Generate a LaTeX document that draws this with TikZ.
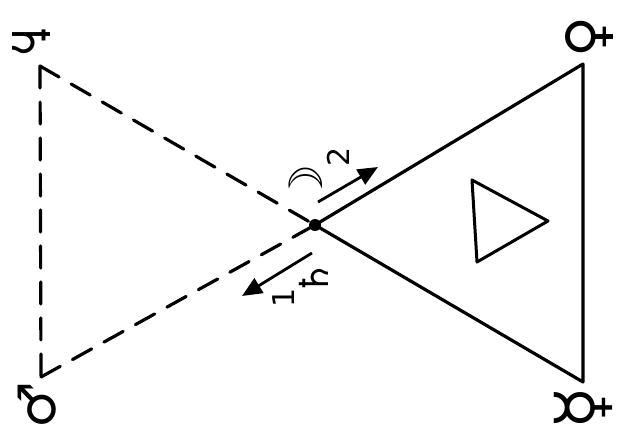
\documentclass[tikz,border=0pt]{standalone}
\usepackage{fontspec}
\newfontfamily\symfont{DejaVu Sans}
\usetikzlibrary{arrows.meta}
\tikzset{
  edge/.style={line width=3.2pt, line cap=round, line join=round},
  dashedge/.style={edge, dash pattern=on 22pt off 14pt},
  sym/.style={font=\symfont\fontsize{60}{62}\selectfont, inner sep=0pt},
  lab/.style={font=\symfont\fontsize{30}{32}\selectfont, inner sep=0pt},
  arr/.style={line width=2.8pt, -{Triangle[length=20pt,width=17pt]}}
}
\begin{document}
\begin{tikzpicture}[x=1pt,y=-1pt]
\useasboundingbox (0,0) rectangle (621,434);
% vertices
\coordinate (TL) at (40,66);
\coordinate (BL) at (41,377);
\coordinate (C) at (315,225);
\coordinate (TR) at (583,64);
\coordinate (BR) at (583,382);
% dashed left triangle
\draw[dashedge] (TL) -- (C);
\draw[dashedge] (BL) -- (C);
\draw[dashedge] (TL) -- (BL);
% solid right triangle
\draw[edge] (C) -- (TR) -- (BR) -- cycle;
\fill (C) circle (6pt);
% inner triangle
\coordinate (iA) at (472,180);
\coordinate (iB) at (477,262);
\coordinate (iC) at (548,221);
\draw[edge, line width=3pt] (iA) -- (iB) -- (iC) -- cycle;
% arrows
\coordinate (a1s) at (318,202);
\coordinate (a1e) at (378,167);
\coordinate (a2s) at (312,253);
\coordinate (a2e) at (242,296);
\draw[arr] (a1s) -- (a1e);
\draw[arr] (a2s) -- (a2e);
% corner symbols
\node[sym, rotate=-90, font=\symfont\fontsize{52}{54}\selectfont] (sat) at (31,42) {♄};
\node[sym, rotate=90, font=\symfont\fontsize{56}{58}\selectfont] (ven) at (590,37) {♀};
\node[sym, rotate=90, font=\symfont\fontsize{52}{54}\selectfont] (mar) at (37,405) {♂};
\node[sym, rotate=90, font=\symfont\fontsize{70}{72}\selectfont] (mer) at (583,408) {☿};
% centre labels
\node[lab, rotate=90, font=\symfont\fontsize{46}{48}\selectfont] (moon) at (306,185) {☽};
\node[lab, rotate=90] (two) at (338,157) {2};
\node[lab, rotate=90] (one) at (284,298) {1};
\node[lab, rotate=90, font=\symfont\fontsize{40}{42}\selectfont] (sat2) at (314,279) {♄};
\end{tikzpicture}
\end{document}
